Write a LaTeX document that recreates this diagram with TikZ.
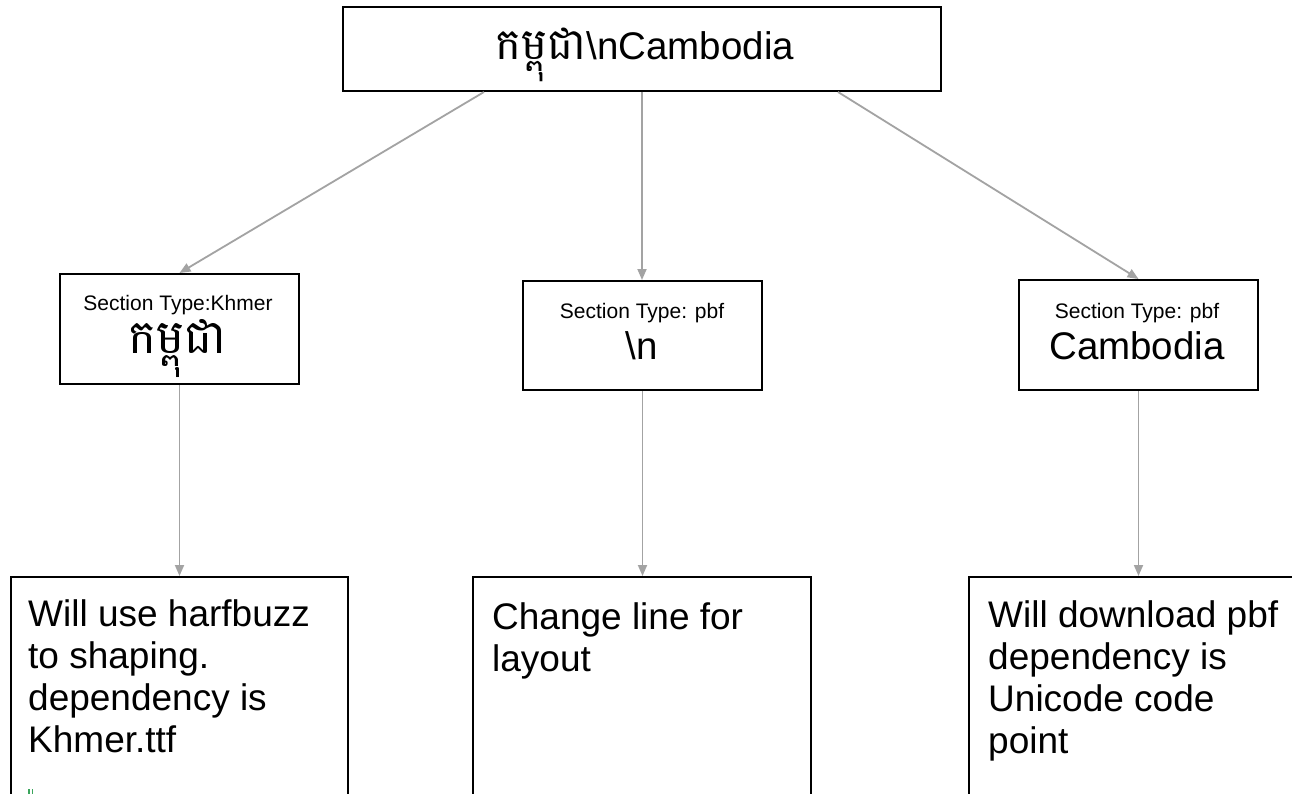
\documentclass[tikz,border=0pt]{standalone}
\usepackage{fontspec}
\setmainfont{Liberation Sans}
\newfontfamily\khmerfont[Script=Khmer]{Battambang}
\usetikzlibrary{arrows.meta}
\definecolor{linkgray}{HTML}{A3A3A3}
\definecolor{markgreen}{HTML}{3BA55C}
\newcommand{\notetext}[1]{\parbox[t]{330pt}{\raggedright #1}}
\begin{document}
\begin{tikzpicture}[x=1pt,y=-1pt,
  box/.style={draw=black,line width=2pt,inner sep=0pt,anchor=north west},
  link/.style={draw=linkgray,line width=1.8pt,-{Triangle[length=11pt,width=9pt]}},
  small/.style={font=\fontsize{21}{25}\selectfont,anchor=base,inner sep=0pt},
  big/.style={font=\fontsize{38.5}{44}\selectfont,anchor=base,inner sep=0pt},
  note/.style={font=\fontsize{37}{42}\selectfont,anchor=base west,inner sep=0pt}]
\useasboundingbox (0,0) rectangle (1292,794);
\clip (0,0) rectangle (1292,794);
\fill[white] (0,0) rectangle (1292,794);

% root: the whole string
\node[box,minimum width=598pt,minimum height=84pt] (top) at (342,6) {};
\node[big] (toptext) at (645,60) {{\khmerfont\fontsize{43.5}{48}\selectfont កម្ពុជា}\textbackslash nCambodia};

% split sections
\node[box,minimum width=239pt,minimum height=110pt] (khm) at (59,273) {};
\node[small] (khmtype) at (178,310) {Section Type:Khmer};
\node[big] (khmword) at (178,353) {\khmerfont\fontsize{47}{50}\selectfont កម្ពុជា};

\node[box,minimum width=239pt,minimum height=109pt] (nl) at (522,280) {};
\node[small] (nltype) at (642,318) {Section Type: pbf};
\node[big] (nlword) at (642,359) {\textbackslash n};

\node[box,minimum width=239pt,minimum height=110pt] (cam) at (1018,279) {};
\node[small] (camtype) at (1137,318) {Section Type: pbf};
\node[big] (camword) at (1137,359) {Cambodia};

% handling of each section
\node[box,minimum width=337pt,minimum height=300pt] (harf) at (10,576) {};
\node[note] (harftext) at (28,626) {\notetext{Will use harfbuzz\\to shaping.\\dependency is\\Khmer.ttf}};

\node[box,minimum width=338pt,minimum height=300pt] (brk) at (472,576) {};
\node[note] (brktext) at (492,629) {\notetext{Change line for\\layout}};

\node[box,minimum width=400pt,minimum height=300pt] (pbf) at (968,576) {};
\node[note] (pbftext) at (988,627) {\notetext{Will download pbf\\dependency is\\Unicode code\\point}};

% small green mark under the first note
\fill[markgreen] (28,789) rectangle (29.6,794);
\fill[markgreen] (31.5,789) rectangle (33.1,794);

% connectors
\draw[link] ([xshift=-158pt]top.south) -- (khm.north);
\draw[link] (top.south) -- (top.south |- nl.north);
\draw[link] ([xshift=196pt]top.south) -- (cam.north);
\draw[link] (khm.south) -- (khm.south |- harf.north);
\draw[link] (nl.south) -- (nl.south |- brk.north);
\draw[link] (cam.south) -- (cam.south |- pbf.north);
\end{tikzpicture}
\end{document}
